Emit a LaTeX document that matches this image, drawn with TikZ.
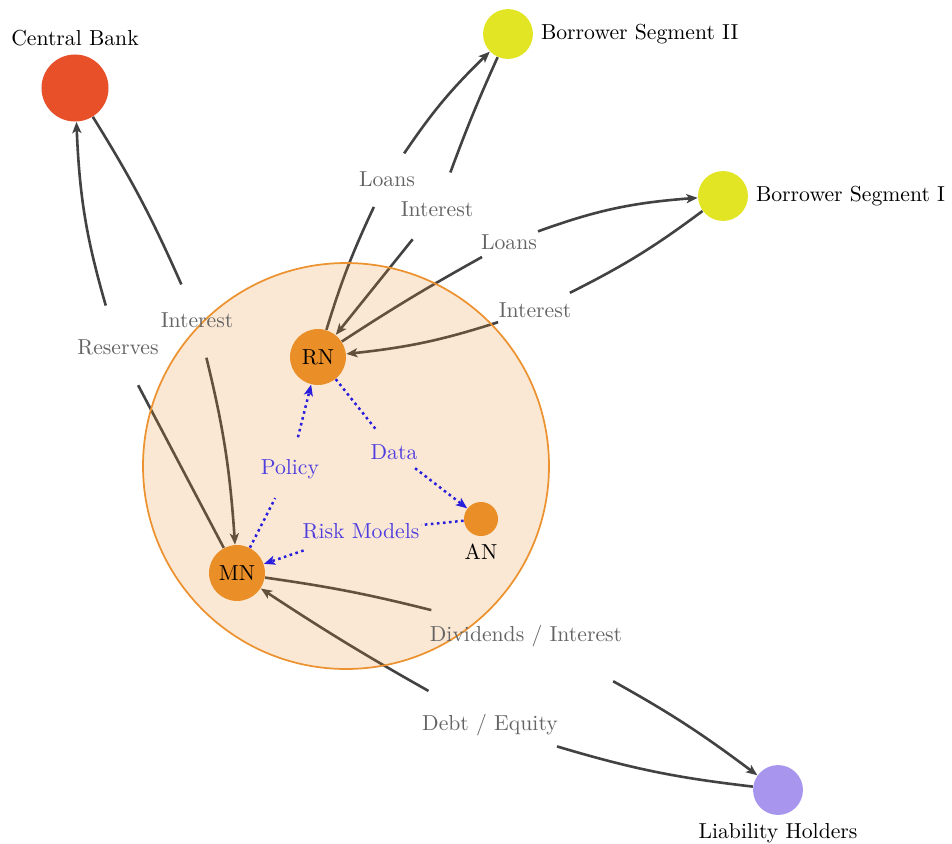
\documentclass[tikz,border=0pt]{standalone}
\usetikzlibrary{arrows.meta,bending}
\pgfdeclarelayer{flows}
\pgfdeclarelayer{ring}
\pgfsetlayers{flows,ring,main}
\definecolor{cbred}{RGB}{232,80,42}
\definecolor{byellow}{RGB}{226,229,36}
\definecolor{lhpurple}{RGB}{168,150,238}
\definecolor{norange}{RGB}{234,142,40}
\definecolor{ringorange}{RGB}{236,146,48}
\definecolor{flowgray}{RGB}{66,66,66}
\definecolor{labgray}{RGB}{100,100,100}
\definecolor{infoblue}{RGB}{40,30,220}
\definecolor{labblue}{RGB}{78,62,222}
\begin{document}
\begin{tikzpicture}[x=0.4611pt,y=0.4611pt,
  agent/.style={circle,fill=#1,inner sep=0pt,draw=none},
  flowlab/.style={circle,inner sep=0.6pt,text=labgray},
  infolab/.style={circle,inner sep=0.6pt,text=labblue},
  flowline/.style={draw=flowgray,line width=1.2pt},
  flowarrow/.style={flowline,-{Stealth[length=5.2pt,width=4.2pt,inset=1.3pt]}},
  infoline/.style={draw=infoblue,line width=1.15pt,dash pattern=on 1.2pt off 1.6pt},
  infoarrow/.style={infoline,-{Stealth[length=5.2pt,width=4.2pt,inset=1.3pt]}}
]
\useasboundingbox (0,0) rectangle (952,-843);

% agents
\node[agent=cbred,minimum size=30.9pt,label=above:Central Bank] (cb) at (75,-88) {};
\node[agent=byellow,minimum size=23pt,label=right:Borrower Segment II] (bs2) at (508,-34) {};
\node[agent=byellow,minimum size=23pt,label=right:Borrower Segment I] (bs1) at (723,-196) {};
\node[agent=lhpurple,minimum size=23pt,label=below:Liability Holders] (lh) at (778,-790) {};
\node[agent=norange,minimum size=25.8pt] (rn) at (318,-357) {RN};
\node[agent=norange,minimum size=25.8pt] (mn) at (237,-573) {MN};
\node[agent=norange,minimum size=15.7pt,label=below:AN] (an) at (481,-519) {};

% bank ring
\begin{pgfonlayer}{ring}
\node[circle,minimum size=187.2pt,inner sep=0pt,draw=ringorange,line width=0.8pt,fill=norange,fill opacity=0.2,draw opacity=1] (bank) at (346,-466) {};
\end{pgfonlayer}

% labels
\node[flowlab] (lres) at (118,-347) {Reserves};
\node[flowlab] (lcbint) at (197,-320) {Interest};
\node[flowlab] (lloan2) at (387,-179) {Loans};
\node[flowlab] (lint2) at (437,-209) {Interest};
\node[flowlab] (lloan1) at (509,-242) {Loans};
\node[flowlab] (lint1) at (535,-310) {Interest};
\node[infolab] (lpol) at (290,-469) {Policy};
\node[infolab] (ldata) at (394,-452) {Data};
\node[infolab] (lrisk) at (361,-531) {Risk Models};
\node[flowlab] (ldiv) at (526,-636) {Dividends / Interest};
\node[flowlab] (ldebt) at (490,-725) {Debt / Equity};

% money flows
\begin{pgfonlayer}{flows}
\draw[flowline] (mn) -- (lres);
\draw[flowarrow] (lres) to[bend left=7] (cb);
\draw[flowline] (cb) to[bend left=4] (lcbint);
\draw[flowarrow] (lcbint) to[bend left=5] (mn);
\draw[flowline] (rn) to[bend left=4] (lloan2);
\draw[flowarrow] (lloan2) to[bend left=6] (bs2);
\draw[flowline] (bs2) to[bend right=2] (lint2);
\draw[flowarrow] (lint2) -- (rn);
\draw[flowline] (rn) to[bend left=2] (lloan1);
\draw[flowarrow] (lloan1) to[bend left=8] (bs1);
\draw[flowline] (bs1) to[bend left=5] (lint1);
\draw[flowarrow] (lint1) to[bend left=6] (rn);
\draw[flowline] (mn) to[bend left=3] (ldiv);
\draw[flowarrow] (ldiv) to[bend left=4] (lh);
\draw[flowline] (lh) to[bend left=5] (ldebt);
\draw[flowarrow] (ldebt) to[bend left=2] (mn);
\end{pgfonlayer}

% information flows
\draw[infoline] (mn) -- (lpol);
\draw[infoarrow] (lpol) -- (rn);
\draw[infoline] (rn) -- (ldata);
\draw[infoarrow] (ldata) -- (an);
\draw[infoline] (an) -- (lrisk);
\draw[infoarrow] (lrisk) -- (mn);
\end{tikzpicture}
\end{document}
